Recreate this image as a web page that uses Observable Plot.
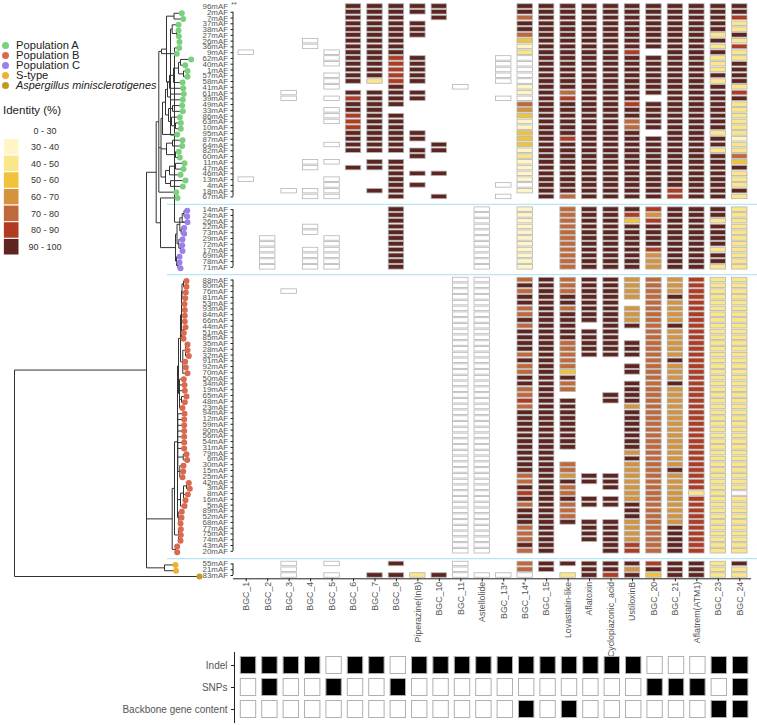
<!DOCTYPE html>
<html>
<head>
<meta charset="utf-8">
<script src="https://cdn.jsdelivr.net/npm/d3@7"></script>
<script src="https://cdn.jsdelivr.net/npm/@observablehq/plot@0.6"></script>
<style>
html,body{margin:0;padding:0;background:#fff;}
#chart{position:relative;width:757px;height:725px;overflow:hidden;font-family:"Liberation Sans",Arial,sans-serif;}
#chart svg{position:absolute;left:0;top:0;background:transparent;overflow:visible;}
#idTitle{position:absolute;left:3px;top:104px;font-size:11.5px;color:#222;}
</style>
</head>
<body>
<div id="chart"><div id="idTitle">Identity (%)</div></div>
<script>
// ---------- categories ----------
const columns = ["BGC_1","BGC_2","BGC_3","BGC_4","BGC_5","BGC_6","BGC_7","BGC_8","Piperazine(InB)","BGC_10","BGC_11","Astellolide","BGC_13*","BGC_14*","BGC_15","Lovastatin-like","Aflatoxin","Cyclopiazonic_acid","UstiloxinB","BGC_20","BGC_21","Aflatrem(ATM1)","BGC_23","BGC_24"];
const identityLabels = ["0 - 30","30 - 40","40 - 50","50 - 60","60 - 70","70 - 80","80 - 90","90 - 100"];
const identityColors = ["#ffffff","#fff5c6","#fbe78a","#f0c33d","#d4933f","#c1683a","#b03b22","#5e2520"];
const populations = ["Population A","Population B","Population C","S-type","Aspergillus minisclerotigenes"];
const populationColors = ["#7ccf7f","#d9694f","#9b80ea","#ecb12e","#c49a1e"];
const variationRows = ["Indel","SNPs","Backbone gene content"];

// ---------- strain rows; each cell string reads BGC_1..BGC_24, "." = absent, digit = identity class ----------
const rowsA = ["96","2","7","37","38","27","26","36","9","62","40","1","57","58","41","61","39","49","33","86","63","10","95","87","64","82","60","11","47","46","13","4","18","67"];
const cellsA = [
"..... 77777 ... 77777777777",
"..... 77777 ... 77777777777",
"..... 777.7 ... 57777777776",
"..... 7777. ... 77777777772",
"..... 7777. ... 77777777772",
"..... 7777. ... 57777777727",
"...0. 777.. ... 37777777772",
"...0. 777.. ... 17777777726",
"0...0 777.. ... 277776.7772",
"....0 7767. ..0 07777777722",
"....0 7767. ..0 07777777727",
"..... 7767. ..0 07777777727",
"....0 7767. ..0 07777777777",
"....0 7267. ..0 07777777727",
"....0 ..7.. 0.. 17777777772",
"..0.. 7777. ... 17577777776",
"..0.0 6777. ..0 076777.7777",
"..... 777.. ... 57777677772",
"....0 77... ... 47777777772",
"....0 677.. ... 37777777772",
"....0 677.. ... 17777577772",
"..... 677.. ... 17777577772",
"..... 7777. ... 377777.7722",
"..... 7777. ... 37677777771",
"....0 777.7 ... 37777777772",
"..... 77777 ... 17777777722",
"..... ...7. ... 27777777775",
"...00 .77.. ... 17777777773",
"...0. 777.. ... 17777777777",
"..... ..777 ... 17777777772",
"0...0 ..7.. ... 17777777772",
"....0 ..77. ..0 07777777772",
"..000 .77.. ... 17777776777",
"...00 ..7.7 ..0 .7577776772"];
const rowsC = ["14","24","26","22","73","29","72","17","69","78","71"];
const cellsC = [
"..... ..7.. .0. 1.577767772",
"..... ..7.. .0. 1.577647772",
"..... ..7.. .0. 1.577367722",
"...0. ..7.. .0. 1.577777772",
"...0. ..7.. .0. 1.577777772",
".0..0 ..7.. .0. 1.577777772",
".0..0 ..7.. .0. 1.577777772",
".0.00 ..7.. .0. 1.577767722",
".0.00 ..7.. .0. 1.577747772",
".0.00 ..7.. .0. 1.577747772",
".0.00 ..7.. .0. 1.577747722"];
const rowsB = ["88","80","76","81","53","93","84","66","44","51","85","35","28","32","91","92","70","50","34","19","65","48","23","94","12","59","90","56","54","31","79","6","30","15","25","42","3","8","16","5","89","52","68","77","75","74","43","20"];
const cellsB = [
"..... ..... 00. 57577454622",
"..... ..... 00. 77577454622",
"..0.. ..... 00. 57577454622",
"..... ..... 00. 77777457622",
"..... ..... 00. 77777.54622",
"..... ..... 00. 57577454622",
"..... ..... 00. 57777454622",
"..... ..... 00. 77777454622",
"..... ..... 00. 577.7757622",
"..... ..... 00. 77777.54622",
"..... ..... 00. 77777.54622",
"..... ..... 00. 77577754622",
"..... ..... 00. 77577754622",
"..... ..... 00. 57577754622",
"..... ..... 00. 775...57622",
"..... ..... 00. 575..754622",
"..... ..... 00. 573..754622",
"..... ..... 00. 777...54622",
"..... ..... 00. 775..757622",
"..... ..... 00. 575..754622",
"..... ..... 00. 57..7754622",
"..... ..... 00. 677.7754622",
"..... ..... 00. 577..454622",
"..... ..... 00. 777..754622",
"..... ..... 00. 777..754622",
"..... ..... 00. 777..754622",
"..... ..... 00. 777..754622",
"..... ..... 00. 777..754622",
"..... ..... 00. 777..754622",
"..... ..... 00. 777..754622",
"..... ..... 00. 77...454622",
"..... ..... 00. 77...754622",
"..... ..... 00. 775..454622",
"..... ..... 00. 775..457622",
"..... ..... 00. 57477454622",
"..... ..... 00. 57777454622",
"..... ..... 00. 775.7454622",
"..... ..... 00. 675..454220",
"..... ..... 00. 77777454622",
"..... ..... 00. 57577754622",
"..... ..... 00. 775..754622",
"..... ..... 00. 775..754622",
"..... ..... 00. 77777454622",
"..... ..... 00. 57.77457622",
"..... ..... 00. 57.77457622",
"..... ..... 00. 57.77457622",
"..... ..... 00. 77..7657622",
"..... ..... 00. 57..7657622"];
const rowsS = ["55","21","83"];
const cellsS = [
"..0.0 ..7.. 0.. 57777767727",
"..0.. ..... 0.. 57.77477722",
"..0.0 .7727 000 0.276737722"];

// ---------- presence of variation per BGC ----------
const indel = [1,1,1,1,0,1,1,0,1,1,1,1,1,1,1,1,1,1,1,0,0,0,1,1];
const snps = [0,1,0,0,1,0,0,1,0,0,0,0,0,0,0,0,0,0,0,1,1,1,0,1];
const backbone = [0,0,0,0,0,0,0,0,0,0,0,0,0,1,0,1,0,0,0,0,0,0,1,1];

// ---------- phylogeny: tip depths and [nodeDepth, ...children] ----------
const tipDepthA = [null,181.3,182.7,178,178,178.3,179,178.7,176.3,190.7,184.7,187,187,182,182.7,183.3,182.3,181.7,182.3,179.3,180.3,180.3,176.7,182,181.7,178.3,179.3,184,183,180,185,182.3,175.7,177];
const tipDepthC = [186.7,186.7,187,183.7,183.7,182,181.7,182,179,179,180];
const tipDepthB = [186,186,185.3,184.7,184,184.3,184.3,184.3,185,183.3,183,187,187,188.3,184.7,185.3,187,183.3,184,184.3,186,184.3,182,184,183.7,183.7,183.7,183.7,183.7,183.7,186,186.7,183,182.7,182,188.3,189.3,187.3,185,184,181.3,181,180,180.3,180.3,180,176.7,176.7];
const tipDepthS = [175,175.5,199];
const cladeA1 = [161,[166,[173.5,"2","7"],[170,[171.7,"37",[176,"38","27"]],[174,"26","36"]]],"9"];
const cladeQ = [167,[169,[173,[178,[180,"62","40"],[183,"1","57"]],"58"],"41"],[170,"61","39"]];
const cladeR = [168,[172,"49","33"],[171,"86",[175,"63","10"]]];
const cladeW = [166,[172,"87","64"],[175,"82","60"]];
const cladeZ = [165,[169,[175,"11","47"],"46"],[170,"13","4"]];
const cladeA = [158.3,cladeA1,[160.5,[162,[165,cladeQ,cladeR],"95"],cladeW,cladeZ],"18"];
const cladeC = [175,[176.5,[179.3,[181.7,[183.5,"14","24"],"26"],[180.7,"22","73"]],[178.3,"29",[180,"72","17"]]],[176,"69",[177.5,"78","71"]]];
const cladeB1 = [180,[181,[181.5,[183,"88","80"],"76","81"],"53","93","84","66",[183,"44","51"],"85"],[182.3,[185,"35","28","32"],"91","92","70"]];
const cladeB2 = [179,"50","34","19",[181,"65","48"],"23"];
const cladeB3 = [177.3,"94","12","59","90","56","54","31",[182.7,"79","6"],[179.3,"30","15","25"]];
const cladeB4 = [180,[183,[186,"42","3"],"8","16"],"5"];
const cladeB = [171.7,[174,[177,[178,cladeB1,cladeB2],cladeB3,cladeB4,[178.3,"89","52","68"]],[178,"77","75","74"]],[175,"43","20"]];
const treeRoot = [14,[146,[155.7,cladeA,[160,"67",cladeC]],cladeB,[164,"55","21"]],"83"];

// ---------- assemble ----------
const groupGap = 2.2;
const groups = [
  {rows: rowsA, cells: cellsA, tips: tipDepthA, pop: populations[0]},
  {rows: rowsC, cells: cellsC, tips: tipDepthC, pop: populations[2]},
  {rows: rowsB, cells: cellsB, tips: tipDepthB, pop: populations[1]},
  {rows: rowsS, cells: cellsS, tips: tipDepthS, pop: populations[3]}
];
const rowTable = [], cellTable = [], brackets = [], separators = [];
let pos = 0;
groups.forEach((g, gi) => {
  g.rows.forEach((r, i) => {
    const name = r + "mAF";
    let pop = g.pop;
    if (r === "83") pop = populations[4];
    rowTable.push({id: r, name, pos, tip: g.tips[i], pop});
    [...g.cells[i].replace(/ /g, "")].forEach((c, ci) => {
      if (c !== ".") cellTable.push({col: columns[ci], pos, cls: identityLabels[+c]});
    });
    pos += 1;
  });
  pos -= 1;
  const first = rowTable.find(d => d.id === g.rows[gi === 0 ? 1 : 0]).pos;
  brackets.push({y1: first, y2: pos});
  if (gi < groups.length - 1) separators.push(pos + groupGap / 2);
  pos += groupGap;
});
const lastPos = pos - groupGap;
const posByName = new Map(rowTable.map(d => [d.pos, d.name]));
const rowById = new Map(rowTable.map(d => [d.id, d]));

const treeLinks = [];
function walk(node) {
  if (typeof node === "string") {
    const r = rowById.get(node);
    return {x: r.tip, y: r.pos};
  }
  const [depth, ...children] = node;
  const pts = children.map(walk);
  const ys = pts.map(p => p.y);
  const y0 = d3.min(ys), y1 = d3.max(ys);
  treeLinks.push({x1: depth, x2: depth, y1: y0, y2: y1});
  pts.forEach(p => treeLinks.push({x1: depth, x2: p.x, y1: p.y, y2: p.y}));
  return {x: depth, y: (y0 + y1) / 2};
}
walk(treeRoot);

const ink = "#555";
const chart = document.getElementById("chart");
const font = '"Liberation Sans", Arial, sans-serif';

// ---------- tree, row axis line, separators ----------
const axisDepth = 232.5;
chart.append(Plot.plot({
  width: 757, height: 725, margin: 0,
  style: {fontFamily: font, background: "transparent"},
  x: {domain: [0, 757], range: [0, 757], axis: null},
  y: {domain: [0, lastPos], range: [7, 576], axis: null},
  color: {domain: populations, range: populationColors},
  marks: [
    Plot.ruleY(separators, {x1: 167, x2: 757, stroke: "#b7e5f6", strokeWidth: 1.2}),
    Plot.link(treeLinks, {x1: "x1", x2: "x2", y1: "y1", y2: "y2", stroke: "#333", strokeWidth: 1}),
    Plot.dot(rowTable.filter(d => d.tip != null), {x: "tip", y: "pos", r: 3, fill: "pop"})
  ]
}));
chart.append(Plot.plot({
  width: 757, height: 725, margin: 0,
  style: {fontFamily: font, background: "transparent"},
  x: {domain: [0, 757], range: [0, 757], axis: null},
  y: {domain: [0, lastPos], range: [6, 575], axis: null},
  marks: [
    Plot.ruleX(brackets, {x: () => axisDepth, y1: "y1", y2: "y2", stroke: "#222", strokeWidth: 1}),
    Plot.text(["**"], {x: () => axisDepth, y: () => 0, text: d => d, dy: -2, dx: 1, textAnchor: "middle", fontSize: 7, fill: ink})
  ]
}));

// ---------- heat map with row and column axes ----------
chart.append(Plot.plot({
  width: 757, height: 725,
  marginLeft: 233, marginRight: 7, marginTop: 0, marginBottom: 146.7,
  style: {fontFamily: font, background: "transparent"},
  x: {type: "band", domain: columns, range: [235, 750], padding: 0, round: false, label: null},
  y: {domain: [0, lastPos], range: [6, 575], label: null},
  color: {type: "ordinal", domain: identityLabels, range: identityColors},
  marks: [
    Plot.barY(cellTable, {x: "col", y1: d => d.pos - 0.39, y2: d => d.pos + 0.39, fill: "cls", stroke: "#b5b5b5", strokeWidth: 0.8, insetLeft: 3, insetRight: 3}),
    Plot.axisY({ticks: rowTable.map(d => d.pos), tickFormat: p => posByName.get(p), tickSize: 0, tickPadding: 5.5, fontSize: 7.9, fill: ink, label: null}),
    Plot.axisY({ticks: rowTable.filter(d => d.id !== "96").map(d => d.pos), tickFormat: () => "", tickSize: 2.5, stroke: "#222", label: null}),
    Plot.axisX({anchor: "bottom", tickRotate: -90, tickSize: 3, tickPadding: 0, fontSize: 8.8, fill: ink, stroke: "#222", label: null}),
    Plot.frame({anchor: "bottom", stroke: "#222"})
  ]
}));

// ---------- variation matrix ----------
const variationTable = [];
[indel, snps, backbone].forEach((vals, i) => vals.forEach((v, j) => variationTable.push({row: variationRows[i], col: columns[j], v})));
chart.append(Plot.plot({
  width: 757, height: 725,
  marginLeft: 234, marginRight: 6, marginTop: 652, marginBottom: 3,
  style: {fontFamily: font, background: "transparent"},
  x: {type: "band", domain: columns, range: [237.3, 750.9], padding: 0, round: false, axis: null},
  y: {type: "band", domain: variationRows, range: [654, 720], padding: 0, round: false, label: null},
  marks: [
    Plot.cell(variationTable, {x: "col", y: "row", fill: d => d.v ? "#000" : "#fff", stroke: "#b0b0b0", strokeWidth: 1, inset: 0, insetLeft: 3, insetRight: 3, insetTop: 2.5, insetBottom: 2.5}),
    Plot.axisY({tickSize: 3, tickPadding: 4, fontSize: 10, fill: ink, stroke: "#222", label: null}),
    Plot.frame({anchor: "left", stroke: "#222"})
  ]
}));

// ---------- legends ----------
chart.append(Plot.plot({
  width: 200, height: 110, margin: 0,
  style: {fontFamily: font, background: "transparent"},
  x: {axis: null},
  y: {type: "point", domain: populations, range: [39.3, 91], axis: null},
  color: {domain: populations, range: populationColors},
  marks: [
    Plot.dot(populations, {y: d => d, fill: d => d, r: 3.5, frameAnchor: "left", dx: 5}),
    Plot.text(populations.slice(0, 4), {y: d => d, text: d => d, frameAnchor: "left", dx: 15.5, textAnchor: "start", fontSize: 11.2, fill: "#222"}),
    Plot.text(populations.slice(4), {y: d => d, text: d => d, frameAnchor: "left", dx: 15.5, textAnchor: "start", fontSize: 10.9, fontStyle: "italic", fill: "#222"})
  ]
}));
chart.append(Plot.plot({
  width: 80, height: 260, margin: 0,
  style: {fontFamily: font, background: "transparent"},
  x: {type: "band", domain: ["swatch"], range: [3.3, 19], padding: 0, round: false, axis: null},
  y: {type: "band", domain: identityLabels, range: [121.8, 255], padding: 0, round: false, axis: null},
  color: {type: "ordinal", domain: identityLabels, range: identityColors},
  marks: [
    Plot.cell(identityLabels, {x: () => "swatch", y: d => d, fill: d => d, stroke: "#fff", strokeWidth: 1}),
    Plot.text(identityLabels, {y: d => d, text: d => d, frameAnchor: "left", dx: 44.5, textAnchor: "middle", fontSize: 9, fill: "#333"})
  ]
}));
</script>
</body>
</html>
